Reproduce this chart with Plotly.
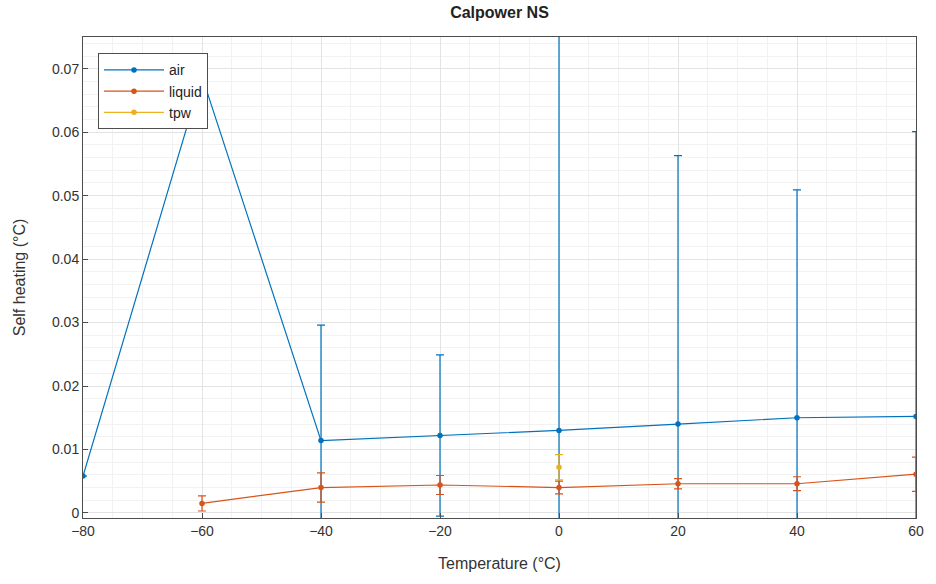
import plotly.graph_objects as go

air_x = [-80, -60, -40, -20, 0, 20, 40, 60]
air_y = [0.0058, 0.0688, 0.0114, 0.0122, 0.0130, 0.0140, 0.0150, 0.0152]
air_err = [0.0, 0.0, 0.0182, 0.0127, 0.0700, 0.0423, 0.0359, 0.0449]

liq_x = [-60, -40, -20, 0, 20, 40, 60]
liq_y = [0.0015, 0.0040, 0.0044, 0.0040, 0.0046, 0.0046, 0.0061]
liq_err = [0.0012, 0.0023, 0.0015, 0.0010, 0.0008, 0.0011, 0.0027]

tpw_x = [0]
tpw_y = [0.0072]
tpw_err = [0.0020]

ytick_vals = [0, 0.01, 0.02, 0.03, 0.04, 0.05, 0.06, 0.07]
ytick_text = ["0", "0.01", "0.02", "0.03", "0.04", "0.05", "0.06", "0.07"]
xtick_vals = [-80, -60, -40, -20, 0, 20, 40, 60]

series = [
    ("air", air_x, air_y, air_err, "#0072BD"),
    ("liquid", liq_x, liq_y, liq_err, "#D95319"),
    ("tpw", tpw_x, tpw_y, tpw_err, "#EDB120"),
]

fig = go.Figure()
for name, xs, ys, es, col in series:
    fig.add_trace(go.Scatter(
        x=xs, y=ys, name=name, mode="lines+markers",
        line=dict(color=col, width=1.2),
        marker=dict(color=col, size=5.5, symbol="circle"),
        error_y=dict(type="data", array=es, visible=True, color=col,
                     thickness=1.2, width=4),
    ))

axis_common = dict(
    showline=True, linecolor="#4d4d4d", linewidth=1, mirror=True,
    ticks="inside", ticklen=5, tickcolor="#4d4d4d",
    showgrid=True, gridcolor="#e3e3e3", gridwidth=1,
    zeroline=False,
    tickfont=dict(family="Liberation Sans, Arial", size=14, color="#333333"),
    title_font=dict(family="Liberation Sans, Arial", size=16, color="#333333"),
)

fig.update_xaxes(
    range=[-80, 60], tickvals=xtick_vals,
    title_text="Temperature (°C)", title_standoff=20,
    minor=dict(dtick=5, showgrid=True, gridcolor="#f2f2f2", ticks=""),
    **axis_common,
)
fig.update_yaxes(
    range=[-0.0008, 0.075], tickvals=ytick_vals, ticktext=ytick_text,
    title_text="Self heating (°C)", title_standoff=22,
    minor=dict(dtick=0.002, showgrid=True, gridcolor="#f2f2f2", ticks=""),
    **axis_common,
)

fig.update_layout(
    width=936, height=584,
    margin=dict(l=83, r=15, t=37, b=66),
    paper_bgcolor="white", plot_bgcolor="white",
    title=dict(text="<b>Calpower NS</b>", x=0.5, xref="paper", xanchor="center",
               y=0.978, yanchor="middle",
               font=dict(family="Liberation Sans, Arial", size=16, color="#222222")),
    showlegend=True,
    legend=dict(x=0.018, y=0.966, xanchor="left", yanchor="top",
                bgcolor="white", bordercolor="#4d4d4d", borderwidth=1,
                font=dict(family="Liberation Sans, Arial", size=14, color="#222222"),
                tracegroupgap=0, itemwidth=60, entrywidth=116),
)

fig.write_html("out.html")
